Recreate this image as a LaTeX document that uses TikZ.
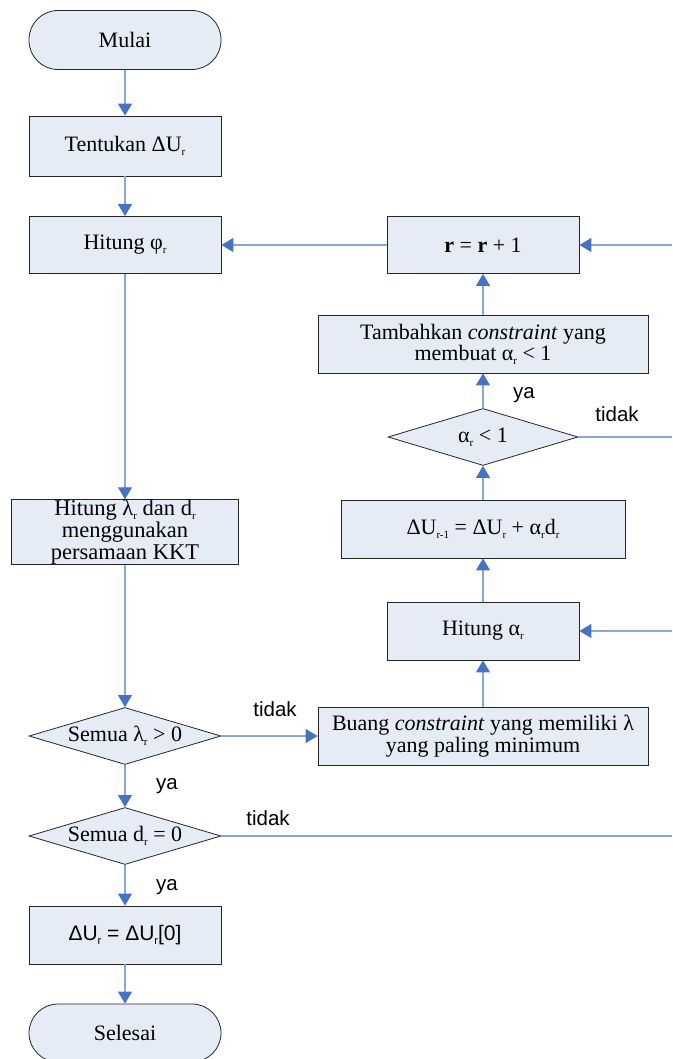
\documentclass[tikz,border=0pt]{standalone}
\usepackage{fontspec}
\setmainfont{Liberation Serif}
\newfontfamily\arialf{Liberation Sans}
\usetikzlibrary{shapes.geometric,arrows.meta}
\definecolor{boxfill}{RGB}{230,236,246}
\definecolor{linec}{RGB}{135,168,215}
\definecolor{arrc}{RGB}{70,114,196}
\newcommand\sbr[1][r]{\raisebox{-0.35ex}{\fontsize{11}{11}\selectfont #1}}
\tikzset{
  box/.style={draw=black!85, fill=boxfill, line width=0.8pt, minimum width=192pt,
    minimum height=58pt, align=center, inner sep=2pt,
    font=\fontsize{22}{21.5}\selectfont},
  term/.style={box, rounded corners=29pt},
  dec/.style={diamond, draw=black!85, fill=boxfill, line width=0.8pt, aspect=3.37,
    minimum width=192pt, minimum height=57pt, inner sep=0pt,
    font=\fontsize{22}{21.5}\selectfont},
  conn/.style={draw=linec, line width=1.3pt},
  arr/.style={conn, -{Triangle[width=14pt,length=12pt,color=arrc,fill=arrc]}},
  lab/.style={font=\arialf\fontsize{20.5}{20}\selectfont}
}
\begin{document}
\begin{tikzpicture}[x=1pt,y=-1pt]
\useasboundingbox (0,0) rectangle (672,1059);
\node[term, minimum height=59pt] (mulai) at (125,40) {Mulai};
\node[box, minimum height=60pt] (tentukan) at (125,146) {Tentukan ΔU\sbr};
\node[box, minimum height=57pt] (hphi) at (125,245) {Hitung φ\sbr};
\node[box, minimum height=57pt] (rr) at (483,245) {\textbf{r} = \textbf{r} + 1};
\node[box, minimum width=330pt] (tamb) at (483,344) {Tambahkan \textit{constraint} yang\\membuat α\sbr{} < 1};
\node[dec, minimum width=190pt] (alph) at (483,437) {α\sbr{} < 1};
\node[box, minimum width=284pt] (dur) at (483,529) {ΔU\sbr[r-1] = ΔU\sbr{} + α\sbr d\sbr};
\node[box] (halpha) at (483,631) {Hitung α\sbr};
\node[box, minimum width=227pt, minimum height=61pt, inner sep=0pt,
  font=\fontsize{22.5}{22}\selectfont] (hlam) at (125,532) {Hitung λ\sbr{} dan d\sbr\\menggunakan\\persamaan KKT};
\node[dec] (slam) at (125,736) {Semua λ\sbr{} > 0};
\node[box, minimum width=330pt] (buang) at (483,736) {Buang \textit{constraint} yang memiliki λ\\yang paling minimum};
\node[dec] (sd) at (125,836) {Semua d\sbr{} = 0};
\node[box, font=\arialf\fontsize{21}{21}\selectfont] (du0) at (125,935) {ΔU\sbr{} = ΔU\sbr{}[0]};
\node[term] (selesai) at (125,1033) {Selesai};

\coordinate (eR) at (672,245);
\coordinate (eA) at (672,437);
\coordinate (eH) at (672,631);
\coordinate (eD) at (672,836);

\draw[arr] (mulai) -- (tentukan);
\draw[arr] (tentukan) -- (hphi);
\draw[arr] (rr) -- (hphi);
\draw[arr] (hphi) -- (hlam);
\draw[arr] (hlam) -- (slam);
\draw[arr] (slam) -- (buang);
\draw[arr] (slam) -- (sd);
\draw[arr] (sd) -- (du0);
\draw[arr] (du0) -- (selesai);
\draw[conn] (sd.east) -- (eD);
\draw[arr] (buang) -- (halpha);
\draw[arr] (halpha) -- (dur);
\draw[arr] (dur) -- (alph);
\draw[arr] (alph) -- (tamb);
\draw[arr] (tamb) -- (rr);
\draw[conn] (alph.east) -- (eA);
\draw[arr] (eR) -- (rr);
\draw[arr] (eH) -- (halpha);

\node[lab] (l1) at (275,709) {tidak};
\node[lab] (l2) at (167,786) {ya};
\node[lab] (l3) at (268,818) {tidak};
\node[lab] (l4) at (167,887) {ya};
\node[lab] (l5) at (524,395) {ya};
\node[lab] (l6) at (617,414) {tidak};
\end{tikzpicture}
\end{document}
